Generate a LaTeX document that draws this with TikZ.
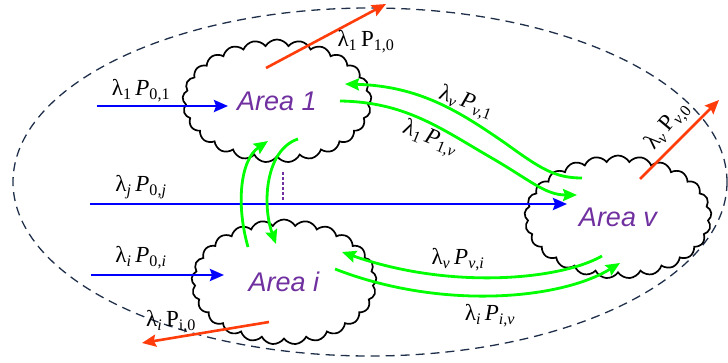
\documentclass[tikz,border=0pt]{standalone}
\usepackage{fontspec}
\setmainfont{Liberation Serif}
\setsansfont{Liberation Sans}
\usetikzlibrary{arrows.meta,shapes.symbols}
\definecolor{FlujoAzul}{HTML}{0000FF}
\definecolor{FlujoVerde}{HTML}{00FF00}
\definecolor{FlujoRojo}{HTML}{FF3C0A}
\definecolor{AreaMorado}{HTML}{7030A0}
\definecolor{Frontera}{HTML}{1F2F4A}

\begin{document}
\begin{tikzpicture}[x=1pt,y=-1pt,
  area/.style={cloud,cloud puffs=25,cloud puff arc=120,cloud ignores aspect,
    draw=black,line width=1.7pt,fill=white,minimum width=189pt,minimum height=123pt,
    font=\sffamily\itshape\fontsize{27}{30}\selectfont,text=AreaMorado},
  tasa/.style={font=\fontsize{23}{25}\selectfont,inner sep=0pt},
  entrada/.style={-{Stealth[length=14pt,width=12pt,inset=2pt]},line width=2.6pt,draw=FlujoAzul},
  salida/.style={-{Stealth[length=14pt,width=12pt,inset=2pt]},line width=2.6pt,draw=FlujoRojo},
  traslado/.style={-{Stealth[length=14pt,width=12pt,inset=2pt]},line width=2.8pt,draw=FlujoVerde},
  frontera/.style={draw=Frontera,line width=1.3pt,dash pattern=on 9pt off 6pt}
]
\useasboundingbox (0,0) rectangle (728,363);
\draw[frontera] (370,182) ellipse [x radius=357, y radius=174];

% areas
\node[area] (area1) at (277,101) {Area 1};
\node[area,minimum width=185pt,minimum height=125pt] (areai) at (284,282) {Area i};
\node[area,minimum width=187pt] (areav) at (618,217) {Area v};

% free ends
\coordinate (in1) at (97,106);
\coordinate (inj) at (90,204);
\coordinate (ini) at (91,275);
\coordinate (out1) at (386,4);
\coordinate (outv) at (719,100);
\coordinate (outi) at (142,343);
\coordinate (dots) at (283,200);

% external inflows
\draw[entrada] (in1) -- ([shift={(-49,5)}]area1.center);
\draw[entrada] (inj) -- ([shift={(-51,-13)}]areav.center);
\draw[entrada] (ini) -- ([shift={(-60,-7)}]areai.center);
\draw[densely dashed,line width=1.8pt,draw=AreaMorado] ([shift={(6,71)}]area1.center) -- (dots);

% external outflows
\draw[salida] ([shift={(-11,-33)}]area1.center) -- (out1);
\draw[salida] ([shift={(22,-38)}]areav.center) -- (outv);
\draw[salida] ([shift={(-15,40)}]areai.center) -- (outi);

% transfers between areas
\draw[traslado] ([shift={(-36,-35)}]areai.center) .. controls (236,205) and (240,160) .. ([shift={(-9,40)}]area1.center);
\draw[traslado] ([shift={(21,38)}]area1.center) .. controls (265,150) and (262,205) .. ([shift={(-8,-38)}]areai.center);
\draw[traslado] ([shift={(-36,-39)}]areav.center) .. controls (555,178) and (541,169) .. (505,143)
  .. controls (460,112) and (420,86) .. ([shift={(68,-17)}]area1.center);
\draw[traslado] ([shift={(63,0)}]area1.center) .. controls (405,102) and (440,128) .. (490,157)
  .. controls (530,180) and (545,195) .. ([shift={(-41,-22)}]areav.center);
\draw[traslado] ([shift={(-16,39)}]areav.center) .. controls (560,280) and (450,290) .. ([shift={(58,-30)}]areai.center);
\draw[traslado] ([shift={(51,-13)}]areai.center) .. controls (440,310) and (560,300) .. ([shift={(2,46)}]areav.center);

% rates
\node[tasa] (lam01) at (141,91) {λ\textsubscript{1}\,\textit{P}\textsubscript{0,1}};
\node[tasa] (lam0j) at (141,187) {λ\textsubscript{\textit{j}}\,\textit{P}\textsubscript{0,\textit{j}}};
\node[tasa] (lam0i) at (141,258) {λ\textsubscript{\textit{i}}\,\textit{P}\textsubscript{0,\textit{i}}};
\node[tasa] (lam10) at (366,42) {λ\textsubscript{1}\,P\textsubscript{1,0}};
\node[tasa,rotate=50] (lamv0) at (668,126) {λ\textsubscript{\textit{v}}\,P\textsubscript{\textit{v},0}};
\node[tasa] (lami0) at (171,322) {λ\textsubscript{\textit{i}}\,P\textsubscript{i,0}};
\node[tasa,rotate=-20] (lamv1) at (466,103) {λ\textsubscript{\textit{v}}\,\textit{P}\textsubscript{\textit{v},1}};
\node[tasa,rotate=-22] (lam1v) at (430,139) {λ\textsubscript{1}\,\textit{P}\textsubscript{1,\textit{v}}};
\node[tasa] (lamvi) at (458,260) {λ\textsubscript{\textit{v}}\,\textit{P}\textsubscript{\textit{v},\textit{i}}};
\node[tasa] (lamiv) at (490,316) {λ\textsubscript{\textit{i}}\,\textit{P}\textsubscript{\textit{i},\textit{v}}};
\end{tikzpicture}
\end{document}
